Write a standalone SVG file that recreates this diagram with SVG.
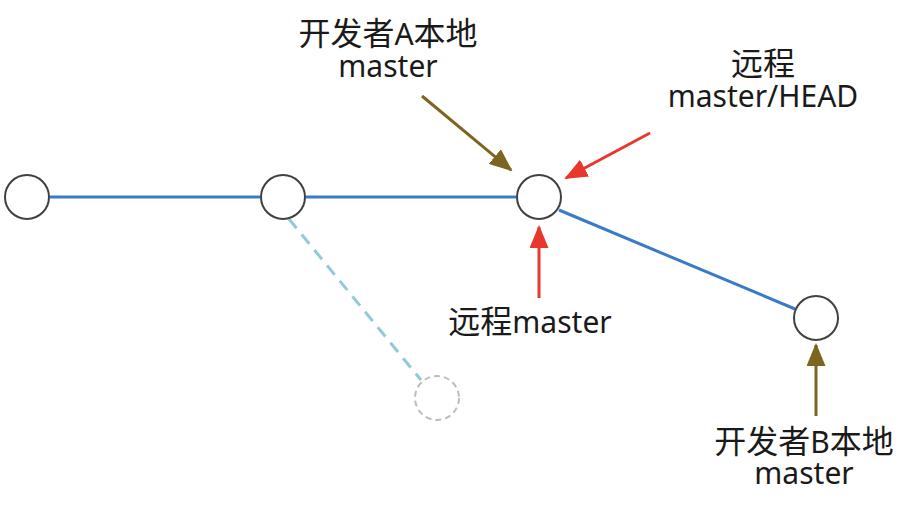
<svg xmlns="http://www.w3.org/2000/svg" width="922" height="512" viewBox="0 0 922 512">
<defs>
<style>
.node{fill:#fff;stroke:#404040;stroke-width:2}
.ghost{fill:#fff;stroke:#bdbdbd;stroke-width:2;stroke-dasharray:6 4}
.edge{stroke:#3a7bc8;stroke-width:3;fill:none}
.dash{stroke:#92cadb;stroke-width:3;stroke-dasharray:12 8;fill:none}
.brown{stroke:#7c6520;stroke-width:3;fill:none}
.red{stroke:#e8372c;stroke-width:3;fill:none}
.lbl{font-family:"Noto Sans","Noto Sans CJK SC",sans-serif;font-size:30px;fill:#1a1a1a;text-anchor:middle}
.cjk{font-family:"Noto Sans CJK SC",sans-serif;font-size:32px}
</style>
<marker id="ab" markerUnits="userSpaceOnUse" markerWidth="23" markerHeight="19" refX="21" refY="9.5" orient="auto"><path d="M0,0 L23,9.5 L0,19 Z" fill="#7c6520"/></marker>
<marker id="ar" markerUnits="userSpaceOnUse" markerWidth="23" markerHeight="19" refX="21" refY="9.5" orient="auto"><path d="M0,0 L23,9.5 L0,19 Z" fill="#e8372c"/></marker>
</defs>
<g id="connectors">
<line class="edge" x1="50" y1="197" x2="260" y2="197"/>
<line class="edge" x1="306" y1="197" x2="516" y2="197"/>
<line class="edge" x1="559" y1="210" x2="795" y2="309"/>
<line class="dash" x1="289" y1="219" x2="421" y2="380"/>
<line class="brown" x1="422" y1="96" x2="511" y2="170" marker-end="url(#ab)"/>
<line class="red" x1="650" y1="133" x2="566" y2="178" marker-end="url(#ar)"/>
<line class="red" x1="539" y1="298" x2="539" y2="227" marker-end="url(#ar)"/>
<line class="brown" x1="816" y1="416" x2="816" y2="345" marker-end="url(#ab)"/>
</g>
<g id="n1"><circle class="node" cx="27" cy="197" r="22"/></g>
<g id="n2"><circle class="node" cx="283" cy="197" r="22"/></g>
<g id="n3"><circle class="node" cx="539" cy="197" r="22"/></g>
<g id="n4"><circle class="node" cx="816" cy="318" r="22"/></g>
<g id="n5"><circle class="ghost" cx="437" cy="398" r="22"/></g>
<g id="labelA"><text class="lbl" x="388" y="45"><tspan class="cjk">开发者</tspan>A<tspan class="cjk">本地</tspan><tspan x="388" dy="32">master</tspan></text></g>
<g id="labelRemoteHead"><text class="lbl" x="763" y="75"><tspan class="cjk">远程</tspan><tspan x="763" dy="32">master/HEAD</tspan></text></g>
<g id="labelRemote"><text class="lbl" x="530" y="333"><tspan class="cjk">远程</tspan>master</text></g>
<g id="labelB"><text class="lbl" x="804" y="453"><tspan class="cjk">开发者</tspan>B<tspan class="cjk">本地</tspan><tspan x="804" dy="31">master</tspan></text></g>
</svg>
